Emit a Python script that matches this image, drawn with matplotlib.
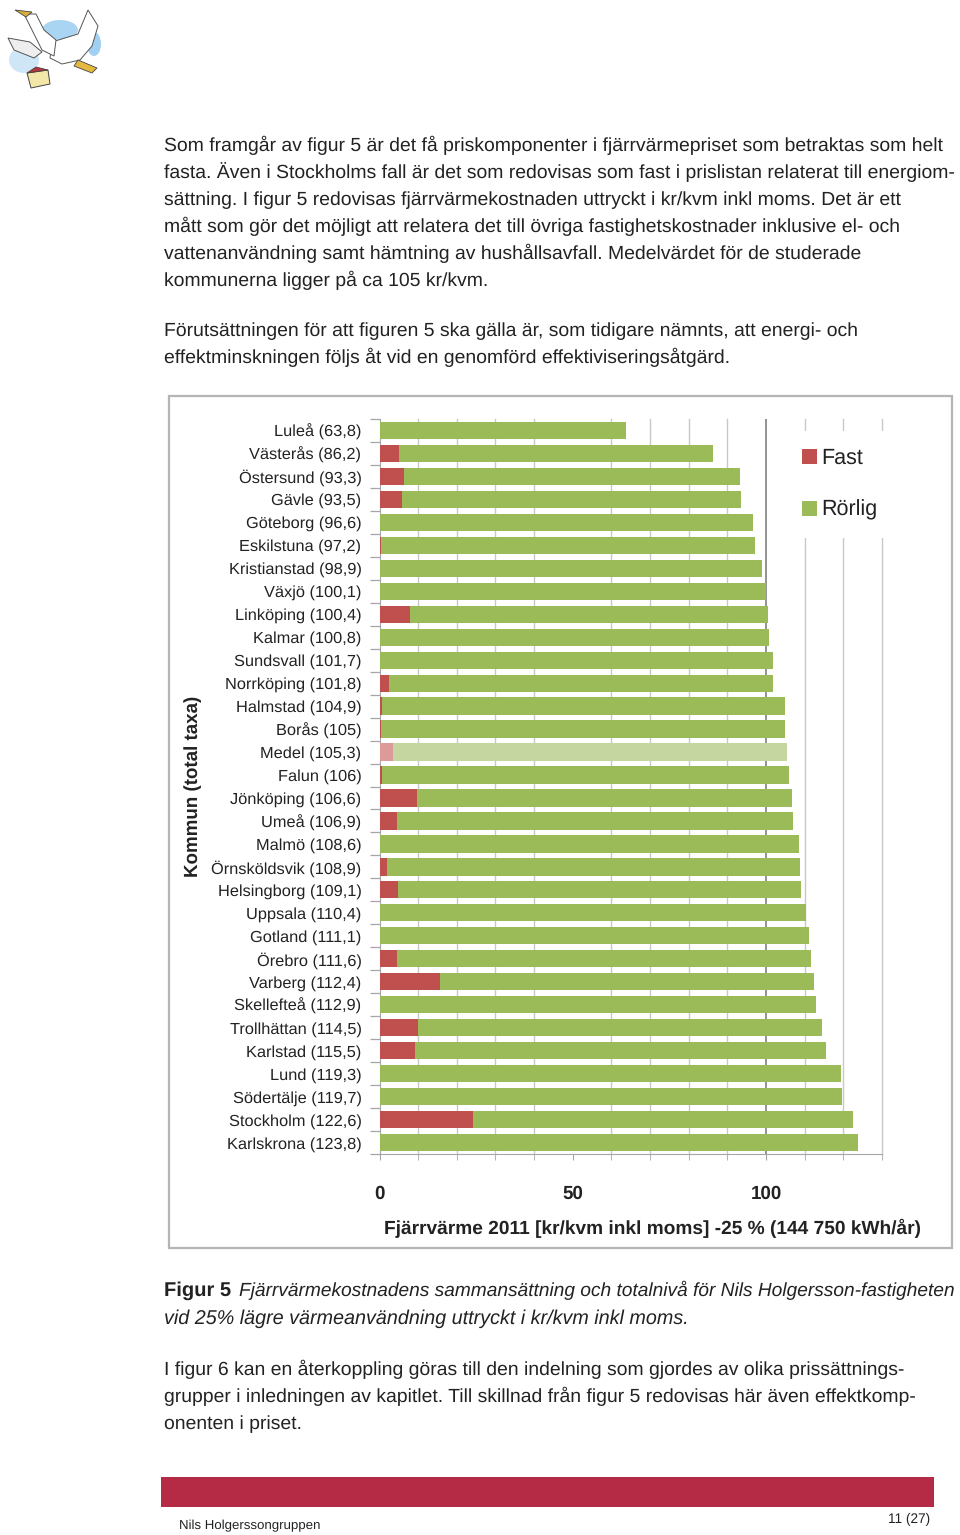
import matplotlib
matplotlib.use("Agg")
import matplotlib.pyplot as plt
from matplotlib.patches import Rectangle, Polygon, Ellipse

W, H = 960, 1535

cities = ["Luleå", "Västerås", "Östersund", "Gävle", "Göteborg", "Eskilstuna", "Kristianstad", "Växjö",
          "Linköping", "Kalmar", "Sundsvall", "Norrköping", "Halmstad", "Borås", "Medel", "Falun",
          "Jönköping", "Umeå", "Malmö", "Örnsköldsvik", "Helsingborg", "Uppsala", "Gotland", "Örebro",
          "Varberg", "Skellefteå", "Trollhättan", "Karlstad", "Lund", "Södertälje", "Stockholm", "Karlskrona"]
totals = [63.8, 86.2, 93.3, 93.5, 96.6, 97.2, 98.9, 100.1, 100.4, 100.8, 101.7, 101.8, 104.9, 105, 105.3, 106,
          106.6, 106.9, 108.6, 108.9, 109.1, 110.4, 111.1, 111.6, 112.4, 112.9, 114.5, 115.5, 119.3, 119.7, 122.6, 123.8]
fast = [0, 5.0, 6.4, 5.8, 0, 0.5, 0, 0, 7.8, 0, 0, 2.5, 0.7, 0.3, 3.5, 0.7,
        9.8, 4.5, 0, 2.0, 4.8, 0, 0, 4.5, 15.7, 0, 10.0, 9.2, 0, 0, 24.2, 0]

body_top = ["Som framgår av figur 5 är det få priskomponenter i fjärrvärmepriset som betraktas som helt",
            "fasta. Även i Stockholms fall är det som redovisas som fast i prislistan relaterat till energiom-",
            "sättning. I figur 5 redovisas fjärrvärmekostnaden uttryckt i kr/kvm inkl moms. Det är ett",
            "mått som gör det möjligt att relatera det till övriga fastighetskostnader inklusive el- och",
            "vattenanvändning samt hämtning av hushållsavfall. Medelvärdet för de studerade",
            "kommunerna ligger på ca 105 kr/kvm."]
body_mid = ["Förutsättningen för att figuren 5 ska gälla är, som tidigare nämnts, att energi- och",
            "effektminskningen följs åt vid en genomförd effektiviseringsåtgärd."]
body_low = ["I figur 6 kan en återkoppling göras till den indelning som gjordes av olika prissättnings-",
            "grupper i inledningen av kapitlet. Till skillnad från figur 5 redovisas här även effektkomp-",
            "onenten i priset."]

plt.rcParams["font.family"] = ["Liberation Sans", "DejaVu Sans"]
plt.rcParams["text.hinting"] = "no_hinting"

fig = plt.figure(figsize=(W / 100, H / 100), dpi=100, facecolor="white")

# page layer in pixel coordinates
page = fig.add_axes([0, 0, 1, 1], zorder=0)
page.set_xlim(0, W)
page.set_ylim(H, 0)
page.axis("off")


def write_lines(lines, x, y0, step=27):
    for i, line in enumerate(lines):
        page.text(x, y0 + i * step, line, fontsize=13.95, color="#222222", va="baseline", ha="left")


write_lines(body_top, 164, 151)
write_lines(body_mid, 164, 336)
write_lines(body_low, 164, 1375)

# frame round the chart
page.add_patch(Rectangle((169, 396), 783, 852, fc="white", ec="#b5b5b5", lw=1.6))

# figure caption
page.text(164, 1296, "Figur 5", fontsize=14.5, fontweight="bold", color="#222222", va="baseline")
page.text(239, 1296, "Fjärrvärmekostnadens sammansättning och totalnivå för Nils Holgersson-fastigheten",
          fontsize=13.8, style="italic", color="#222222", va="baseline")
page.text(164, 1324, "vid 25% lägre värmeanvändning uttryckt i kr/kvm inkl moms.",
          fontsize=14.2, style="italic", color="#222222", va="baseline")

# footer
page.add_patch(Rectangle((161, 1477), 773, 30, fc="#b52a45", ec="none"))
page.text(179, 1526, "Nils Holgerssongruppen", fontsize=9.5, color="#222222", va="center")
page.text(930, 1519, "11 (27)", fontsize=9.8, color="#222222", va="center", ha="right")

# rough goose logo
page.add_patch(Ellipse((24, 60), 30, 26, fc="#cfe6f7", ec="none"))
page.add_patch(Ellipse((60, 30), 36, 20, fc="#a9d5f3", ec="none"))
page.add_patch(Ellipse((94, 44), 14, 24, fc="#a0d0f2", ec="none"))
page.add_patch(Polygon([(8, 38), (30, 42), (42, 52), (34, 58), (14, 50)], fc="#eeeeee", ec="#555555", lw=0.7))
page.add_patch(Polygon([(52, 42), (78, 34), (88, 10), (98, 26), (92, 46), (80, 60), (62, 64), (50, 58)],
                       fc="white", ec="#555555", lw=0.7))
page.add_patch(Polygon([(24, 14), (36, 14), (44, 30), (56, 40), (54, 56), (42, 50), (30, 26)],
                       fc="white", ec="#555555", lw=0.7))
page.add_patch(Polygon([(15, 10), (32, 12), (26, 17)], fc="#d8b13c", ec="#444444", lw=0.6))
page.add_patch(Polygon([(78, 60), (97, 68), (92, 73), (74, 66)], fc="#e3b93f", ec="#444444", lw=0.6))
page.add_patch(Polygon([(27, 73), (48, 70), (50, 84), (31, 88)], fc="#f2e6a8", ec="#444444", lw=0.7))
page.add_patch(Polygon([(27, 73), (36, 67), (48, 70)], fc="#b8323a", ec="#444444", lw=0.6))

# chart
x0, x1 = 379.5, 882
y_top, y_bot = 419, 1154
ax = fig.add_axes([x0 / W, 1 - y_bot / H, (x1 - x0) / W, (y_bot - y_top) / H], zorder=1)
ax.patch.set_alpha(0)

positions = range(len(cities))
rorlig = [t - f for t, f in zip(totals, fast)]
medel = cities.index("Medel")
fast_colors = ["#dc9a9a" if i == medel else "#c0504d" for i in positions]
rorlig_colors = ["#c5d6a0" if i == medel else "#9bbb59" for i in positions]

fast_bars = ax.barh(positions, fast, height=0.75, color=fast_colors, zorder=3, label="Fast")
rorlig_bars = ax.barh(positions, rorlig, left=fast, height=0.75, color=rorlig_colors, zorder=3, label="Rörlig")

ax.set_xlim(0, 130)
ax.set_ylim(len(cities) - 0.5, -0.5)
ax.set_xticks([0, 50, 100])
ax.set_xticks(range(0, 131, 10), minor=True)
ax.set_yticks(list(positions))
ax.set_yticks([i - 0.5 for i in range(len(cities) + 1)], minor=True)
ax.set_yticklabels([f"{c} ({str(t).replace('.', ',')})" for c, t in zip(cities, totals)], fontsize=11.8, color="#222222")
ax.tick_params(axis="y", which="major", length=0, pad=13)
ax.tick_params(axis="y", which="minor", length=7, color="#a6a6a6", width=0.9)
ax.tick_params(axis="x", which="major", length=4, color="#a6a6a6", pad=18, labelsize=13.5)
ax.tick_params(axis="x", which="minor", length=4, color="#a6a6a6")
for label in ax.get_xticklabels():
    label.set_fontweight("bold")
    label.set_color("#222222")

ax.grid(True, axis="x", which="minor", color="#c8c8c8", lw=1.0, zorder=0)
for tick in ax.xaxis.get_minor_ticks():
    tick.gridline.set_clip_on(False)
ax.axvline(100, color="#8a8a8a", lw=1.3, zorder=1)

for side in ["top", "right"]:
    ax.spines[side].set_visible(False)
for side in ["left", "bottom"]:
    ax.spines[side].set_color("#a6a6a6")

ax.set_ylabel("Kommun (total taxa)", fontsize=13.5, fontweight="bold", color="#222222", labelpad=7)
ax.set_xlabel("Fjärrvärme 2011 [kr/kvm inkl moms] -25 % (144 750 kWh/år)", fontsize=13.8, fontweight="bold",
              color="#222222", labelpad=12, x=0.5435)

leg = ax.legend(handles=[fast_bars[0], rorlig_bars[0]], labels=["Fast", "Rörlig"], loc="upper left",
                bbox_to_anchor=((785 - x0) / (x1 - x0), 1 - (431 - y_top) / (y_bot - y_top)),
                frameon=True, framealpha=1, facecolor="white", edgecolor="none", fancybox=False,
                fontsize=15.5, handlelength=0.7, handleheight=0.7, handletextpad=0.2,
                labelspacing=1.45, borderpad=0.8, borderaxespad=0)
leg.set_zorder(5)
leg.get_frame().set_linewidth(0)
for text in leg.get_texts():
    text.set_color("#222222")

fig.savefig("out.png", dpi=100)
